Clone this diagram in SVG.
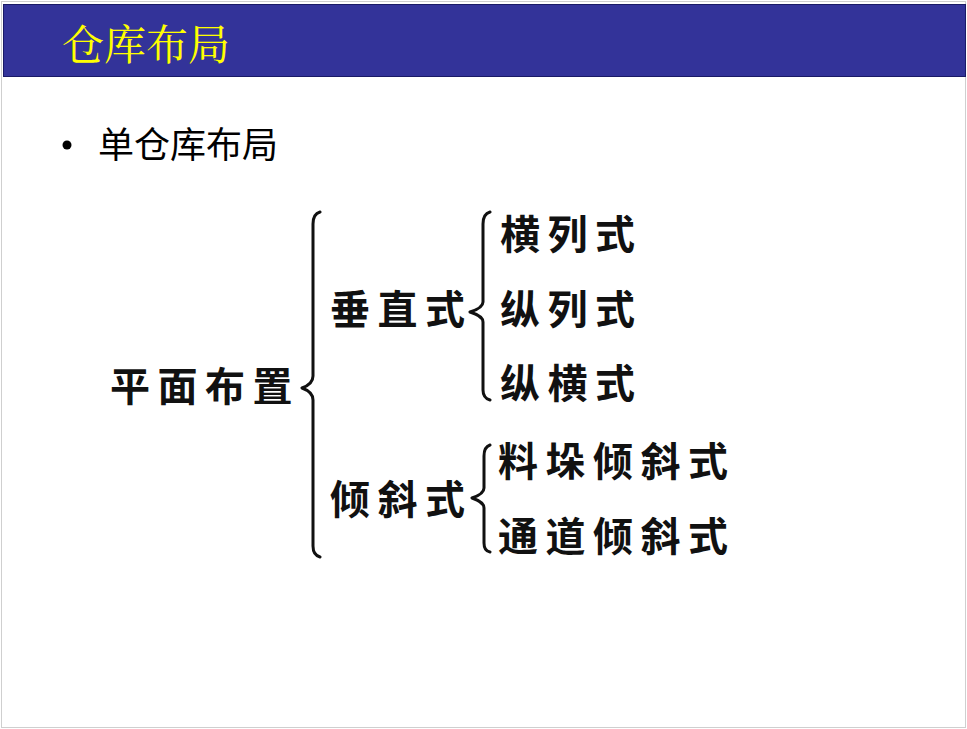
<svg xmlns="http://www.w3.org/2000/svg" width="967" height="729" viewBox="0 0 967 729">
<style>
.t{font-family:"Noto Sans CJK SC","Noto Sans",sans-serif;font-weight:bold;font-size:40px;fill:#111;letter-spacing:7.5px}
.b{fill:none;stroke:#111;stroke-width:3;stroke-linecap:round;stroke-linejoin:round}
</style>
<rect x="0" y="0" width="967" height="729" fill="#fff"/>
<rect x="1.5" y="1.5" width="964" height="726" fill="none" stroke="#cfcfcf" stroke-width="1"/>
<g id="header">
<rect x="3.5" y="4.5" width="962" height="72" fill="#333399" stroke="#1a1a66" stroke-width="1"/>
<text x="62" y="60" font-family="'Noto Serif CJK SC','Noto Sans CJK SC',serif" font-size="42" fill="#ffff00">仓库布局</text>
</g>
<g id="bullet">
<circle cx="67" cy="145" r="4.5" fill="#000"/>
<text x="98" y="158" font-family="'Noto Sans CJK SC',sans-serif" font-size="36" fill="#000">单仓库布局</text>
</g>
<g id="root"><text class="t" x="110" y="401">平面布置</text></g>
<g id="vertical"><text class="t" x="330" y="324">垂直式</text></g>
<g id="incline"><text class="t" x="330" y="514">倾斜式</text></g>
<g id="n1"><text class="t" x="500" y="249">横列式</text></g>
<g id="n2"><text class="t" x="500" y="324">纵列式</text></g>
<g id="n3"><text class="t" x="500" y="398">纵横式</text></g>
<g id="n4"><text class="t" x="498" y="476">料垛倾斜式</text></g>
<g id="n5"><text class="t" x="498" y="551">通道倾斜式</text></g>
<g id="connectors">
<path class="b" d="M320,212 Q313,214 313,224 L313,376 Q313,384 302,388 Q313,392 313,400 L313,546 Q313,555 320,557"/>
<path class="b" d="M490,212 Q483,214 483,224 L483,302 Q483,308 470,312 Q483,316 483,322 L483,390 Q483,398 490,400"/>
<path class="b" d="M490,445 Q484,447 484,456 L484,488 Q484,494 472,498 Q484,502 484,508 L484,543 Q484,551 490,552"/>
</g>
</svg>
